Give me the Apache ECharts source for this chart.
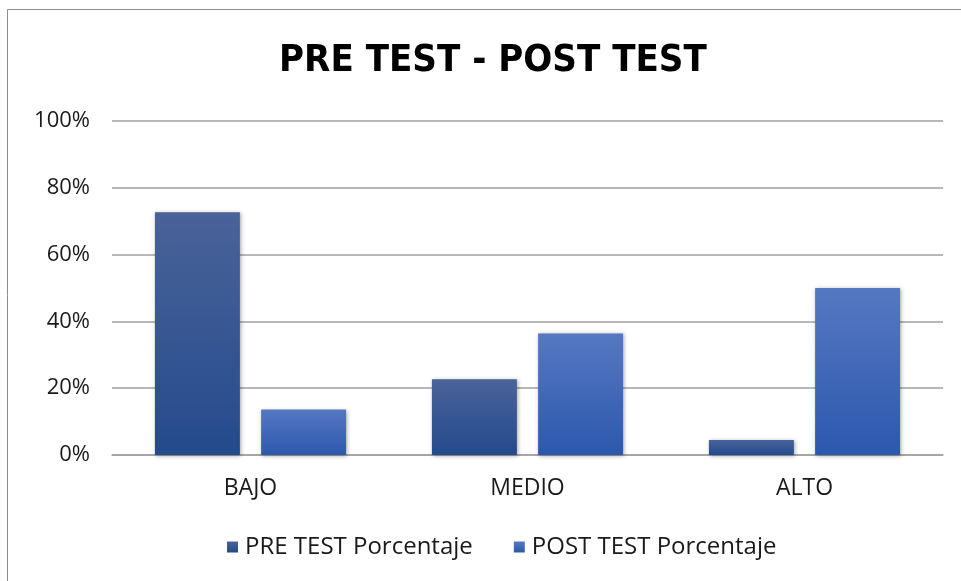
<!DOCTYPE html>
<html>
<head>
<meta charset="utf-8">
<script src="https://cdn.jsdelivr.net/npm/echarts@6/dist/echarts.min.js"></script>
<style>
  html, body { margin: 0; padding: 0; background: #fff; }
  #chart { width: 961px; height: 581px; }
</style>
</head>
<body>
<div id="chart"></div>
<script>
  // categorias y porcentajes (22 estudiantes)
  var categorias = ['BAJO', 'MEDIO', 'ALTO'];
  var preTest = [72.7, 22.7, 4.5];
  var postTest = [13.6, 36.4, 50.0];
  var yTicks = [0, 20, 40, 60, 80, 100];

  var fuente = "'Open Sans', 'Liberation Sans', sans-serif";

  function degradado(arriba, abajo) {
    return new echarts.graphic.LinearGradient(0, 0, 0, 1, [
      { offset: 0, color: arriba },
      { offset: 1, color: abajo }
    ]);
  }

  var myChart = echarts.init(document.getElementById('chart'));
  myChart.setOption({
    backgroundColor: '#fff',
    animation: false,
    graphic: [{
      type: 'rect',
      shape: { x: 7.5, y: 9.5, width: 960, height: 580 },
      style: { fill: 'none', stroke: '#8c8c8c', lineWidth: 1 },
      silent: true
    }],
    title: {
      text: 'PRE TEST - POST TEST',
      left: 274,
      top: 37,
      textStyle: {
        fontFamily: "'DejaVu Sans Condensed', sans-serif",
        fontWeight: 'bold',
        fontSize: 38,
        color: '#000'
      }
    },
    legend: {
      top: 530,
      left: 222,
      itemWidth: 11,
      itemHeight: 11,
      itemGap: 41,
      icon: 'rect',
      textStyle: { fontFamily: fuente, fontSize: 24, color: '#1a1a1a', padding: [0, 0, 0, 2] },
      data: ['PRE TEST Porcentaje', 'POST TEST Porcentaje']
    },
    grid: {
      left: 112,
      right: 18,
      top: 121,
      bottom: 126,
      containLabel: false
    },
    xAxis: {
      type: 'category',
      data: categorias,
      axisLine: { lineStyle: { color: '#a0a0a0', width: 1.5 } },
      axisTick: { show: false },
      axisLabel: { fontFamily: fuente, fontSize: 23, color: '#1a1a1a', margin: 22 }
    },
    yAxis: {
      type: 'value',
      min: yTicks[0],
      max: yTicks[yTicks.length - 1],
      interval: 20,
      axisLine: { show: false },
      axisTick: { show: false },
      splitLine: { lineStyle: { color: '#a0a0a0', width: 1.5 } },
      axisLabel: {
        fontFamily: fuente, fontSize: 22, color: '#1a1a1a', margin: 22,
        formatter: '{value}%'
      }
    },
    series: [{
      name: 'PRE TEST Porcentaje',
      type: 'bar',
      data: preTest,
      barGap: '25%',
      barCategoryGap: '31%',
      itemStyle: {
        color: degradado('#4a6399', '#244a8c'),
        shadowColor: 'rgba(0,0,0,0.35)',
        shadowBlur: 4,
        shadowOffsetX: 1,
        shadowOffsetY: 1
      }
    }, {
      name: 'POST TEST Porcentaje',
      type: 'bar',
      data: postTest,
      itemStyle: {
        color: degradado('#5678c2', '#2c58ad'),
        shadowColor: 'rgba(0,0,0,0.35)',
        shadowBlur: 4,
        shadowOffsetX: 1,
        shadowOffsetY: 1
      }
    }]
  });
</script>
</body>
</html>
